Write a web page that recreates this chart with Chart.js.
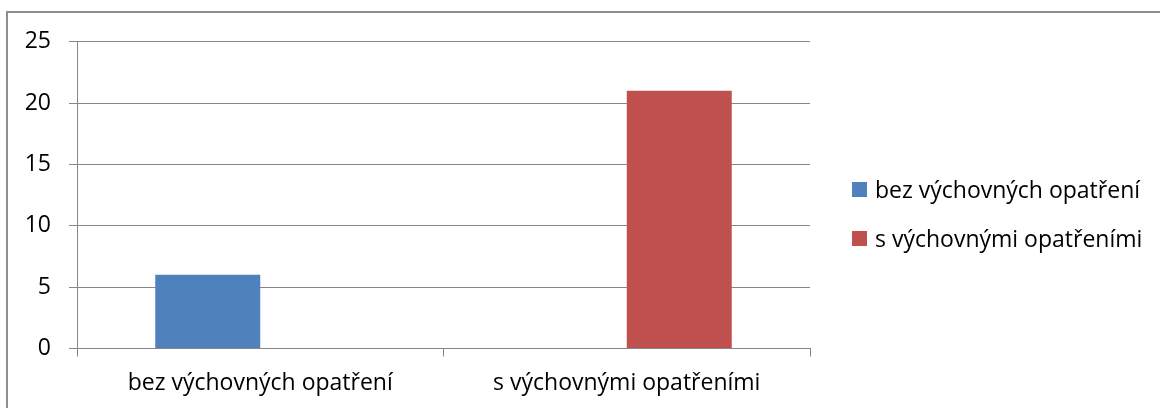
<!DOCTYPE html>
<html>
<head>
<meta charset="utf-8">
<script src="https://cdn.jsdelivr.net/npm/chart.js@4.4.0/dist/chart.umd.min.js"></script>
<style>
  html, body { margin: 0; padding: 0; background: #fff; overflow: hidden; }
  #wrap { position: relative; width: 1160px; height: 408px; }
  #frame { position: absolute; left: 6px; top: 11px; width: 1300px; height: 500px; border: 2px solid #8e8e8e; box-sizing: border-box; }
  #chart { position: absolute; left: 0; top: 0; }
  #legend { position: absolute; left: 852px; top: 173px; font-family: "Open Sans", sans-serif; font-size: 23px; color: #000; }
  .item { height: 49px; display: flex; align-items: flex-start; }
  .box { width: 15px; height: 15px; margin-top: 9px; margin-right: 8px; }
</style>
</head>
<body>
<div id="wrap">
  <div id="frame"></div>
  <canvas id="chart" width="1160" height="408"></canvas>
  <div id="legend"></div>
</div>
<script>
const categories = ['bez výchovných opatření', 's výchovnými opatřeními'];
const seriesNames = ['bez výchovných opatření', 's výchovnými opatřeními'];
const withoutMeasures = [6, null];
const withMeasures = [null, 21];
const seriesColors = ['#4f81bd', '#c0504d'];
const yTicks = [0, 5, 10, 15, 20, 25];

const gridColor = '#878787';
const font = { family: '"Open Sans", sans-serif', size: 23 };

const legend = document.getElementById('legend');
seriesNames.forEach((name, i) => {
  const row = document.createElement('div');
  row.className = 'item';
  row.innerHTML = `<span class="box" style="background:${seriesColors[i]}"></span><span>${name}</span>`;
  legend.appendChild(row);
});

new Chart(document.getElementById('chart'), {
  type: 'bar',
  data: {
    labels: categories,
    datasets: [
      { label: seriesNames[0], data: withoutMeasures, backgroundColor: seriesColors[0] },
      { label: seriesNames[1], data: withMeasures, backgroundColor: seriesColors[1] }
    ]
  },
  options: {
    responsive: false,
    animation: false,
    events: [],
    categoryPercentage: 0.573,
    barPercentage: 1,
    layout: { padding: { top: 41.7, right: 350, bottom: 0, left: 0 } },
    plugins: { legend: { display: false }, tooltip: { enabled: false } },
    scales: {
      x: {
        grid: { offset: true, drawOnChartArea: false, color: gridColor, tickLength: 8, lineWidth: 1 },
        border: { color: gridColor, width: 1 },
        ticks: { color: '#000', font: font, padding: 13, maxRotation: 0 },
        afterFit: s => { s.height = 408 - 348.5; }
      },
      y: {
        min: 0,
        max: 25,
        afterBuildTicks: s => { s.ticks = yTicks.map(v => ({ value: v })); },
        grid: { color: gridColor, tickLength: 8, lineWidth: 1 },
        border: { color: gridColor, width: 1 },
        ticks: { color: '#000', font: font, padding: 18 },
        afterFit: s => { s.width = 77; }
      }
    }
  }
});
</script>
</body>
</html>
